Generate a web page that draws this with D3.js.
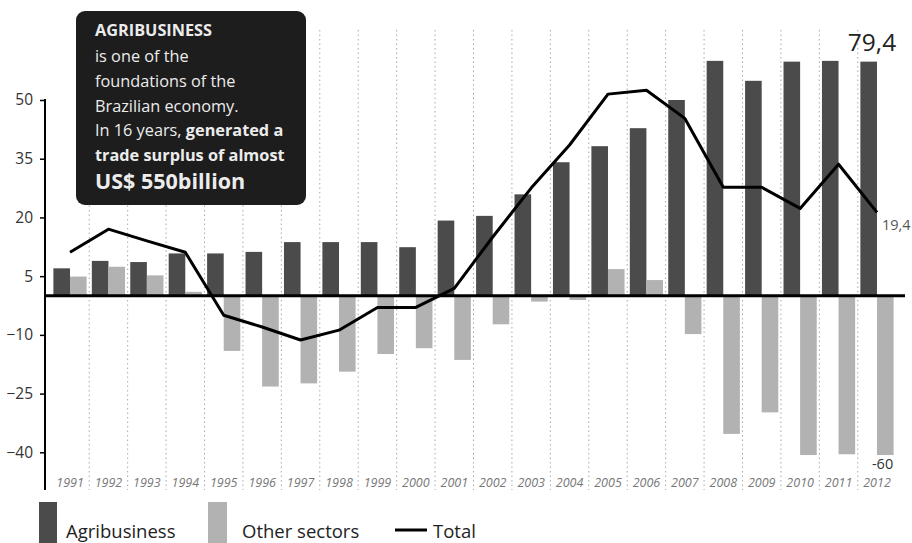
<!DOCTYPE html>
<html>
<head>
<meta charset="utf-8">
<script src="https://cdn.jsdelivr.net/npm/d3@7"></script>
<style>
  html, body { margin: 0; padding: 0; background: #fff; }
  svg { display: block; font-family: "Open Sans", "Noto Sans", sans-serif; }
</style>
</head>
<body>
<svg id="chart" width="912" height="543"></svg>
<script>
const years = ["1991","1992","1993","1994","1995","1996","1997","1998","1999","2000","2001","2002","2003","2004","2005","2006","2007","2008","2009","2010","2011","2012"];
const agribusiness = [7.0, 8.9, 8.6, 10.8, 10.8, 11.2, 13.7, 13.7, 13.7, 12.4, 19.2, 20.4, 25.9, 34.1, 38.2, 42.8, 50.0, 60.0, 54.9, 59.8, 60.0, 59.8];
const otherSectors = [4.9, 7.4, 5.2, 1.0, -14.1, -23.2, -22.4, -19.4, -14.9, -13.4, -16.4, -7.3, -1.5, -1.1, 6.8, 4.0, -9.8, -35.3, -29.8, -40.7, -40.5, -40.7];
const total = [11.1, 17.0, 14.0, 11.1, -5.0, -8.0, -11.3, -8.8, -3.0, -3.0, 1.9, 15.0, 27.5, 38.5, 51.5, 52.5, 45.3, 27.7, 27.7, 22.3, 33.6, 21.3];
const yTicks = [50, 35, 20, 5, -10, -25, -40];
const seriesNames = ["Agribusiness", "Other sectors", "Total"];
const annotations = [
  {text: "79,4", year: "2012", value: 79.4},
  {text: "19,4", year: "2012", value: 19.4},
  {text: "-60", year: "2012", value: -60}
];
const boxLines = [
  [{t: "AGRIBUSINESS", b: true}],
  [{t: "is one of the", b: false}],
  [{t: "foundations of the", b: false}],
  [{t: "Brazilian economy.", b: false}],
  [{t: "In 16 years, ", b: false}, {t: "generated a", b: true}],
  [{t: "trade surplus of almost", b: true}],
  [{t: "US$ 550billion", b: true, big: true}]
];

const svg = d3.select("#chart");
const colDark = "#4b4b4b", colLight = "#b2b2b2";

const x = d3.scaleBand().domain(years).range([50.8, 896.2]).padding(0);
const y = d3.scaleLinear().domain([-40, 50]).range([452.3, 100]);
const barW = 16.6, barOff = 2.6;

// dotted separators
svg.append("g").selectAll("line").data(years.slice(0, -1)).join("line")
  .attr("x1", d => x(d) + x.bandwidth()).attr("x2", d => x(d) + x.bandwidth())
  .attr("y1", 30).attr("y2", 490)
  .attr("stroke", "#a8a8a8").attr("stroke-width", 1).attr("stroke-dasharray", "1.5,3");

// bars
const gb = svg.append("g");
gb.selectAll("rect.a").data(years).join("rect").attr("class", "a")
  .attr("x", d => x(d) + barOff)
  .attr("width", barW)
  .attr("y", (d, i) => y(Math.max(0, agribusiness[i])))
  .attr("height", (d, i) => Math.abs(y(agribusiness[i]) - y(0)))
  .attr("fill", colDark);
gb.selectAll("rect.o").data(years).join("rect").attr("class", "o")
  .attr("x", d => x(d) + barOff + barW)
  .attr("width", barW)
  .attr("y", (d, i) => y(Math.max(0, otherSectors[i])))
  .attr("height", (d, i) => Math.abs(y(otherSectors[i]) - y(0)))
  .attr("fill", colLight);

// total line
const line = d3.line().x((d, i) => x(years[i]) + x.bandwidth() / 2).y(d => y(d));
svg.append("path").datum(total).attr("d", line)
  .attr("fill", "none").attr("stroke", "#000").attr("stroke-width", 3)
  .attr("stroke-linejoin", "round");

// zero baseline
svg.append("line").attr("x1", 45).attr("x2", 905).attr("y1", y(0)).attr("y2", y(0))
  .attr("stroke", "#000").attr("stroke-width", 3);

// y axis
const yAxis = svg.append("g").attr("transform", "translate(45,0)")
  .call(d3.axisLeft(y).tickValues(yTicks).tickSize(5).tickPadding(7).tickFormat(d3.format("d")));
yAxis.select(".domain").remove();
yAxis.selectAll(".tick line").attr("stroke", "#000").attr("stroke-width", 1.5);
yAxis.selectAll(".tick text").attr("font-size", 15.5).attr("fill", "#333")
  .attr("font-family", "'Open Sans', sans-serif");
svg.append("line").attr("x1", 45).attr("x2", 45).attr("y1", y(50) - 1).attr("y2", 490)
  .attr("stroke", "#000").attr("stroke-width", 2);

// x labels
const xAxis = svg.append("g").attr("transform", "translate(0,478)")
  .call(d3.axisBottom(x).tickSize(0).tickPadding(0));
xAxis.select(".domain").remove();
xAxis.selectAll(".tick text").attr("font-size", 12.5).attr("font-style", "italic")
  .attr("fill", "#777").attr("font-family", "'Open Sans', sans-serif");

// annotations
const lastX = x("2012");
svg.append("text").attr("x", lastX + x.bandwidth() / 2 - 5).attr("y", 51)
  .attr("text-anchor", "middle").attr("font-size", 24.5).attr("fill", "#222").text(annotations[0].text);
svg.append("text").attr("x", 882).attr("y", 229.5)
  .attr("font-size", 14.5).attr("fill", "#555").text(annotations[1].text);
svg.append("text").attr("x", lastX + x.bandwidth() - 3).attr("y", 469)
  .attr("text-anchor", "end").attr("font-size", 14.5).attr("fill", "#333").text(annotations[2].text);

// text box
svg.append("rect").attr("x", 76).attr("y", 11).attr("width", 230).attr("height", 194)
  .attr("rx", 9).attr("fill", "#1d1d1d");
const baselines = [36, 62, 87, 112, 136, 161, 189];
boxLines.forEach((parts, i) => {
  const t = svg.append("text").attr("x", 95).attr("y", baselines[i])
    .attr("fill", "#ececec").attr("font-size", 16.3);
  parts.forEach(p => {
    t.append("tspan").text(p.t)
      .attr("font-weight", p.b ? 700 : 400)
      .attr("font-size", p.big ? 21.5 : 16.3);
  });
});

// legend
const lg = svg.append("g");
lg.append("rect").attr("x", 39).attr("y", 502).attr("width", 18).attr("height", 41).attr("fill", colDark);
lg.append("text").attr("x", 66).attr("y", 538).attr("font-size", 18.5).attr("fill", "#222").text(seriesNames[0]);
lg.append("rect").attr("x", 208).attr("y", 502).attr("width", 19).attr("height", 41).attr("fill", colLight);
lg.append("text").attr("x", 242).attr("y", 538).attr("font-size", 18.5).attr("fill", "#222").text(seriesNames[1]);
lg.append("line").attr("x1", 395).attr("x2", 427).attr("y1", 530).attr("y2", 530)
  .attr("stroke", "#000").attr("stroke-width", 3);
lg.append("text").attr("x", 433).attr("y", 538).attr("font-size", 18.5).attr("fill", "#222").text(seriesNames[2]);
</script>
</body>
</html>
